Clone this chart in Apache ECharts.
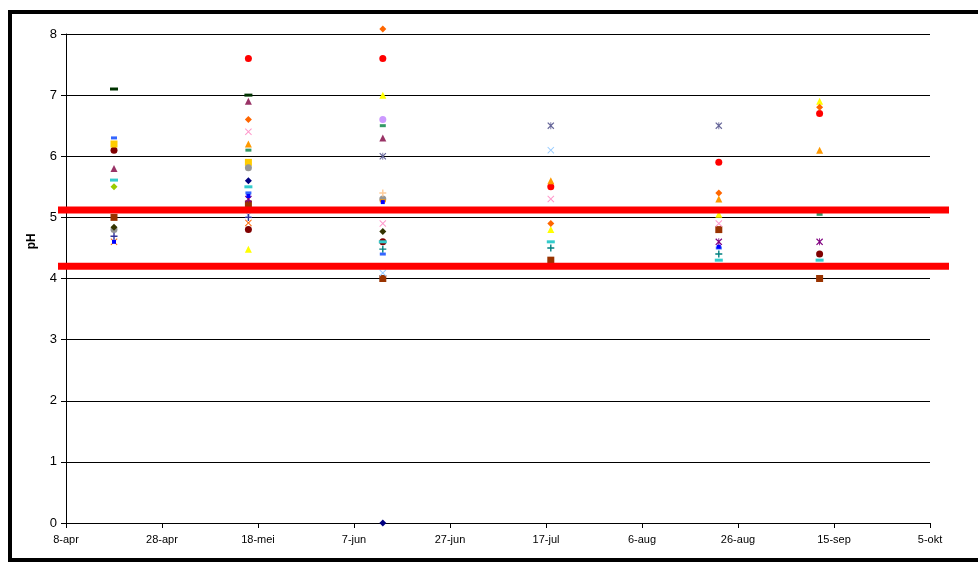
<!DOCTYPE html>
<html><head><meta charset="utf-8">
<script src="https://cdn.jsdelivr.net/npm/echarts@6/dist/echarts.min.js"></script>
<style>html,body{margin:0;padding:0;background:#fff}#c{width:978px;height:562px}</style>
</head><body><div id="c"></div>
<script>
// Sampling dates (same for every series)
const sampleDates = ['2007-04-18','2007-05-16','2007-06-13','2007-07-18','2007-08-22','2007-09-12'];
const axisStart = '2007-04-08';
const xTickLabels = ['8-apr','28-apr','18-mei','7-jun','27-jun','17-jul','6-aug','26-aug','15-sep','5-okt'];
const refHigh = 5.12;
const refLow = 4.2;

// pH per location (null = no measurement)
const navyDiamond    = [null, 5.6, 0, null, null, null];
const brownSquare    = [5.0, 5.22, 4.0, 4.3, 4.8, 4.0];
const yellowTriangle = [null, 4.48, 7.0, 4.8, 5.05, 6.9];
const lightBlueX     = [null, 5.04, 4.09, 6.1, null, null];
const purpleStar     = [null, 5.3, null, null, 4.6, 4.6];
const darkRedCircle  = [6.1, 4.8, 4.6, null, null, 4.4];
const tealPlus       = [null, null, 4.48, 4.5, 4.4, null];
const cyanDash       = [5.61, 5.5, 4.6, 4.6, 4.3, 4.3];
const darkGreenDash  = [7.1, 7.0, null, null, null, null];
const redCircle      = [null, 7.6, 7.6, 5.5, 5.9, 6.7];
const orangeDiamond  = [null, 6.6, 8.08, 4.9, 5.4, 6.8];
const pinkX          = [null, 6.4, 4.9, 5.3, 4.9, null];
const orangeTriangle = [null, 6.2, null, 5.6, 5.3, 6.1];
const greenDash      = [null, 6.1, 6.5, null, null, 5.05];
const goldSquare     = [6.2, 5.9, null, null, null, null];
const grayCircle     = [4.8, 5.81, 5.3, null, null, null];
const plumTriangle   = [5.8, 6.9, 6.3, null, null, null];
const lavenderCircle = [null, null, 6.6, null, null, null];
const slateStar      = [null, null, 6.0, 6.5, 6.5, null];
const peachPlus      = [null, null, 5.4, null, null, null];
const blueSquare     = [6.3, 5.4, 4.4, null, 4.5, null];
const limeDiamond    = [5.5, null, null, null, null, null];
const oliveCircle    = [4.84, null, 4.77, null, null, null];
const indigoPlus     = [4.69, 5.0, null, null, null, null];
const orangeX        = [4.6, 4.91, null, null, null, null];
const orangeDash     = [null, null, 5.27, null, null, null];
const blueSmall      = [4.6, 5.35, 5.25, null, 4.52, null];

const DASH = 'path://M0,0H10V3H0Z';
const XS = 'path://M0,1L1,0L5,4L9,0L10,1L6,5L10,9L9,10L5,6L1,10L0,9L4,5Z';
const PLUS = 'path://M4,0H6V4H10V6H6V10H4V6H0V4H4Z';
const STAR = 'path://M0,1.2L1.2,0L5,3.8L8.8,0L10,1.2L6.2,5L10,8.8L8.8,10L5,6.2L1.2,10L0,8.8L3.8,5Z M4.4,0H5.6V10H4.4Z';

const seriesDefs = [
  ['navy', navyDiamond, '#000080', 'diamond', 7],
  ['brown', brownSquare, '#993300', 'rect', 7],
  ['yellow', yellowTriangle, '#FFFF00', 'triangle', 7],
  ['lightblue', lightBlueX, '#99CCFF', XS, 7],
  ['purple', purpleStar, '#800080', STAR, 7],
  ['darkred', darkRedCircle, '#800000', 'circle', 7],
  ['teal', tealPlus, '#008080', PLUS, 7],
  ['cyan', cyanDash, '#33CCCC', DASH, [8,3]],
  ['darkgreen', darkGreenDash, '#003300', DASH, [8,3]],
  ['red', redCircle, '#FF0000', 'circle', 7],
  ['orange', orangeDiamond, '#FF6600', 'diamond', 7],
  ['pink', pinkX, '#FF99CC', XS, 7],
  ['orangetri', orangeTriangle, '#FF9900', 'triangle', 7],
  ['green', greenDash, '#339966', DASH, [6,3]],
  ['gold', goldSquare, '#FFCC00', 'rect', 7],
  ['gray', grayCircle, '#969696', 'circle', 7],
  ['plum', plumTriangle, '#993366', 'triangle', 7],
  ['lavender', lavenderCircle, '#CC99FF', 'circle', 7],
  ['slate', slateStar, '#666699', STAR, 7],
  ['peach', peachPlus, '#FFCC99', PLUS, 7],
  ['blue', blueSquare, '#3366FF', DASH, [6,3]],
  ['lime', limeDiamond, '#99CC00', 'diamond', 7],
  ['olive', oliveCircle, '#333300', 'diamond', 7],
  ['indigo', indigoPlus, '#333399', PLUS, 7],
  ['orangex', orangeX, '#FF6600', XS, 7],
  ['orangedash', orangeDash, '#FF9900', DASH, [6,3]],
  ['bluesmall', blueSmall, '#0000FF', 'rect', 4]
];

function dayOffset(s) {
  return (Date.parse(s + 'T00:00:00Z') - Date.parse(axisStart + 'T00:00:00Z')) / 86400000;
}
const xDays = sampleDates.map(dayOffset);

const series = seriesDefs.map(function (d) {
  const data = [];
  d[1].forEach(function (v, i) { if (v !== null) data.push([xDays[i], v]); });
  return {
    name: d[0], type: 'scatter', data: data, clip: false,
    symbol: d[3], symbolSize: d[4],
    itemStyle: { color: d[2], opacity: 1 },
    emphasis: { disabled: true }, animation: false
  };
});

const chart = echarts.init(document.getElementById('c'), null, { renderer: 'canvas' });
chart.setOption({
  animation: false,
  backgroundColor: '#fff',
  grid: { left: 66, right: 48, top: 34, bottom: 39 },
  xAxis: {
    type: 'value', min: 0, max: 180, interval: 20,
    axisLine: { lineStyle: { color: '#000', width: 1 } },
    axisTick: { show: true, length: 5, lineStyle: { color: '#000' } },
    splitLine: { show: false },
    axisLabel: {
      color: '#000', fontSize: 11, fontFamily: 'Liberation Sans Narrow, Arial Narrow, Liberation Sans, sans-serif',
      margin: 11,
      formatter: function (v) { return xTickLabels[Math.round(v / 20)] || ''; }
    }
  },
  yAxis: {
    type: 'value', min: 0, max: 8, interval: 1,
    axisLine: { show: true, lineStyle: { color: '#000', width: 1 } },
    axisTick: { show: true, length: 5, lineStyle: { color: '#000' } },
    splitLine: { show: true, lineStyle: { color: '#000', width: 1 } },
    axisLabel: { color: '#000', fontSize: 13, fontFamily: 'Liberation Sans, Arial, sans-serif', margin: 9 }
  },
  series: series
});

function drawOverlay() {
  const yHi = chart.convertToPixel({ yAxisIndex: 0 }, refHigh);
  const yLo = chart.convertToPixel({ yAxisIndex: 0 }, refLow);
  const x0 = chart.convertToPixel({ xAxisIndex: 0 }, 0) - 8;
  const x1 = chart.convertToPixel({ xAxisIndex: 0 }, 180) + 19;
  const yMid = chart.convertToPixel({ yAxisIndex: 0 }, (refHigh + refLow) / 2 - 0.05);
  chart.setOption({
    graphic: [
      { type: 'line', z: 100, shape: { x1: x0, y1: yHi, x2: x1, y2: yHi }, style: { stroke: '#FF0000', lineWidth: 7 } },
      { type: 'line', z: 100, shape: { x1: x0, y1: yLo, x2: x1, y2: yLo }, style: { stroke: '#FF0000', lineWidth: 7 } },
      { type: 'text', z: 100, x: 32, y: yMid, rotation: Math.PI / 2,
        style: { text: 'pH', fill: '#000', font: 'bold 12px Liberation Sans, Arial, sans-serif', align: 'center', verticalAlign: 'middle' } },
      { type: 'rect', z: 100, shape: { x: 10, y: 12, width: 1000, height: 548 },
        style: { fill: null, stroke: '#000', lineWidth: 4 } }
    ]
  });
}
drawOverlay();
</script>
</body></html>
